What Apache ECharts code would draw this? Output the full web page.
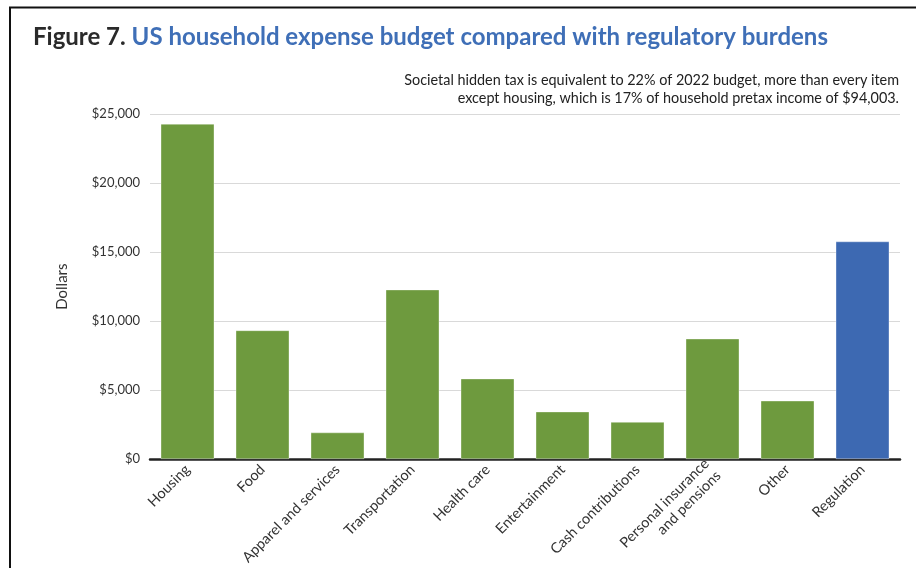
<!DOCTYPE html>
<html>
<head>
<meta charset="utf-8">
<script src="https://cdn.jsdelivr.net/npm/echarts@6/dist/echarts.min.js"></script>
<style>
html,body{margin:0;padding:0;background:#fff;}
#chart{width:916px;height:568px;}
</style>
</head>
<body>
<div id="chart"></div>
<script>
const categories = ["Housing", "Food", "Apparel and services", "Transportation", "Health care", "Entertainment", "Cash contributions", "Personal insurance\nand pensions", "Other", "Regulation"];
const values = [24298, 9343, 1945, 12295, 5850, 3458, 2708, 8742, 4250, 15780];
const barColors = ["#6e9a3e", "#6e9a3e", "#6e9a3e", "#6e9a3e", "#6e9a3e", "#6e9a3e", "#6e9a3e", "#6e9a3e", "#6e9a3e", "#3d69b2"];
const yTicks = [0, 5000, 10000, 15000, 20000, 25000];
const titleLead = "Figure 7. ";
const titleMain = "US household expense budget compared with regulatory burdens";
const subtitleLines = ["Societal hidden tax is equivalent to 22% of 2022 budget, more than every item", "except housing, which is 17% of household pretax income of $94,003."];

const FONT = "Lato, 'Noto Sans', sans-serif";
const chart = echarts.init(document.getElementById('chart'), null, {renderer: 'canvas'});
chart.setOption({
  backgroundColor: '#fff',
  animation: false,
  title: [{
    text: '{a|' + titleLead + '}{b|' + titleMain + '}',
    left: 28, top: 20,
    textStyle: {
      rich: {
        a: {fontFamily: FONT, fontSize: 24, fontWeight: 'bold', color: '#2a2a2a'},
        b: {fontFamily: FONT, fontSize: 24, fontWeight: 'bold', color: '#3f6fb7'}
      }
    }
  }],
  graphic: [
    {type: 'line', shape: {x1: 9, y1: 7.5, x2: 916, y2: 7.5}, style: {stroke: '#111', lineWidth: 2}, silent: true},
    {type: 'line', shape: {x1: 10, y1: 7, x2: 10, y2: 568}, style: {stroke: '#111', lineWidth: 2}, silent: true},
    {type: 'text', x: 899, y: 71, style: {text: subtitleLines.join('\n'), align: 'right', verticalAlign: 'top', font: '14.4px ' + FONT, fill: '#222', lineHeight: 18}, silent: true}
  ],
  grid: {left: 150, right: 16, top: 114, bottom: 108.5, containLabel: false},
  xAxis: {
    type: 'category',
    data: categories,
    axisLine: {lineStyle: {color: '#222', width: 2.5}},
    axisTick: {show: false},
    axisLabel: {interval: 0, rotate: 45, margin: 8, color: '#333', fontSize: 14.5, fontFamily: FONT, lineHeight: 17, align: 'right'}
  },
  yAxis: {
    type: 'value',
    min: yTicks[0], max: yTicks[yTicks.length - 1], interval: 5000,
    name: 'Dollars', nameLocation: 'middle', nameGap: 80,
    nameTextStyle: {color: '#333', fontSize: 15, fontFamily: FONT},
    axisLine: {show: false}, axisTick: {show: false},
    splitLine: {lineStyle: {color: '#d9d9d9', width: 1}},
    axisLabel: {color: '#333', fontSize: 13, fontFamily: FONT, margin: 10,
      formatter: v => '$' + v.toLocaleString('en-US')}
  },
  series: [{
    type: 'bar',
    barWidth: '72%',
    data: values.map((v, i) => ({value: v, itemStyle: {color: barColors[i]}})),
    itemStyle: {borderColor: 'rgba(255,255,255,0.35)', borderWidth: 1}
  }]
});
</script>
</body>
</html>
